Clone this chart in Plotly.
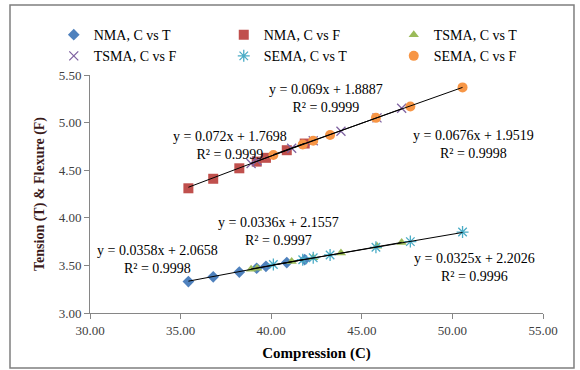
import plotly.graph_objects as go

# ---- data ----
NMA_C = [35.43, 36.80, 38.24, 39.20, 39.71, 40.86, 41.85]
NMA_T = [3.33, 3.38, 3.43, 3.47, 3.49, 3.53, 3.56]
NMA_F = [4.31, 4.41, 4.52, 4.59, 4.63, 4.71, 4.78]

TSMA_C = [38.89, 39.22, 41.13, 42.32, 43.85, 45.84, 47.20]
TSMA_T = [3.46, 3.47, 3.54, 3.58, 3.63, 3.70, 3.74]
TSMA_F = [4.57, 4.60, 4.73, 4.81, 4.91, 5.05, 5.15]

SEMA_C = [40.12, 41.74, 42.32, 43.25, 45.78, 47.68, 50.56]
SEMA_T = [3.51, 3.56, 3.58, 3.61, 3.69, 3.75, 3.85]
SEMA_F = [4.66, 4.77, 4.81, 4.87, 5.05, 5.17, 5.37]

series_names = ["NMA, C vs T", "NMA, C vs F", "TSMA, C vs T",
                "TSMA, C vs F", "SEMA, C vs T", "SEMA, C vs F"]
series_x = [NMA_C, NMA_C, TSMA_C, TSMA_C, SEMA_C, SEMA_C]
series_y = [NMA_T, NMA_F, TSMA_T, TSMA_F, SEMA_T, SEMA_F]

# trendline coefficients as printed on the chart
trend_slope = [0.0358, 0.072, 0.0336, 0.069, 0.0325, 0.0676]
trend_icpt = [2.0658, 1.7698, 2.1557, 1.8887, 2.2026, 1.9519]
trend_r2 = ["0.9998", "0.9999", "0.9997", "0.9999", "0.9996", "0.9998"]
trend_text = ["y = 0.0358x + 2.0658", "y = 0.072x + 1.7698", "y = 0.0336x + 2.1557",
              "y = 0.069x + 1.8887", "y = 0.0325x + 2.2026", "y = 0.0676x + 1.9519"]

x_ticks = [30, 35, 40, 45, 50, 55]
y_ticks = [3.0, 3.5, 4.0, 4.5, 5.0, 5.5]

# ---- styles ----
FONT = "Liberation Serif"
colors = ["#4F81BD", "#C0504D", "#9BBB59", "#8064A2", "#4BACC6", "#F79646"]
symbols = ["diamond", "square", "triangle-up", "x-thin-open", "asterisk-open", "circle"]
sizes = [9, 10, 9, 9, 10, 10]
label_pos = [(33.73, 3.567), (37.73, 4.759), (40.38, 3.861),
             (43.05, 5.251), (51.22, 3.473), (51.14, 4.775)]

fig = go.Figure()
for i in range(6):
    line_w = 1.3 if symbols[i].endswith("open") else 0
    fig.add_trace(go.Scatter(
        x=series_x[i], y=series_y[i], mode="markers", name=series_names[i],
        marker=dict(symbol=symbols[i], size=sizes[i], color=colors[i],
                    line=dict(color=colors[i], width=line_w)),
    ))

for i in range(6):
    xs = [min(series_x[i]), max(series_x[i])]
    ys = [trend_slope[i] * v + trend_icpt[i] for v in xs]
    fig.add_trace(go.Scatter(x=xs, y=ys, mode="lines", showlegend=False,
                             line=dict(color="#000000", width=1), hoverinfo="skip"))

for i in range(6):
    fig.add_annotation(x=label_pos[i][0], y=label_pos[i][1], xref="x", yref="y",
                       text=trend_text[i] + "<br>R² = " + trend_r2[i], showarrow=False,
                       font=dict(family=FONT, size=14, color="#000000"), align="center")

axis_common = dict(showline=True, linecolor="#868686", linewidth=1, ticks="outside",
                   ticklen=5, tickcolor="#868686", showgrid=False, zeroline=False,
                   tickfont=dict(family=FONT, size=13, color="#404040"))

fig.update_layout(
    width=580, height=370,
    margin=dict(l=90, r=37, t=75, b=57),
    paper_bgcolor="white", plot_bgcolor="white",
    xaxis=dict(range=[30, 55], tickvals=x_ticks, tickformat=".2f",
               title=dict(text="<b>Compression (C)</b>", standoff=10,
                          font=dict(family=FONT, size=15, color="#000000")),
               **axis_common),
    yaxis=dict(range=[3, 5.5], tickvals=y_ticks, tickformat=".2f",
               title=dict(text="<b>Tension (T) & Flexure (F)</b>", standoff=10,
                          font=dict(family=FONT, size=14, color="#3a1a1a")),
               **axis_common),
    legend=dict(orientation="h", x=-0.08, y=1.235, xanchor="left", yanchor="top",
                entrywidth=125, entrywidthmode="pixels", itemwidth=30,
                font=dict(family=FONT, size=14, color="#000000"),
                tracegroupgap=0, bgcolor="rgba(0,0,0,0)"),
    showlegend=True,
)

fig.add_shape(type="rect", xref="paper", yref="paper",
              x0=-0.1766, x1=1.0684, y0=-0.231, y1=1.294,
              line=dict(color="#7f7f7f", width=1.5), fillcolor="rgba(0,0,0,0)")

fig.write_html("out.html")
